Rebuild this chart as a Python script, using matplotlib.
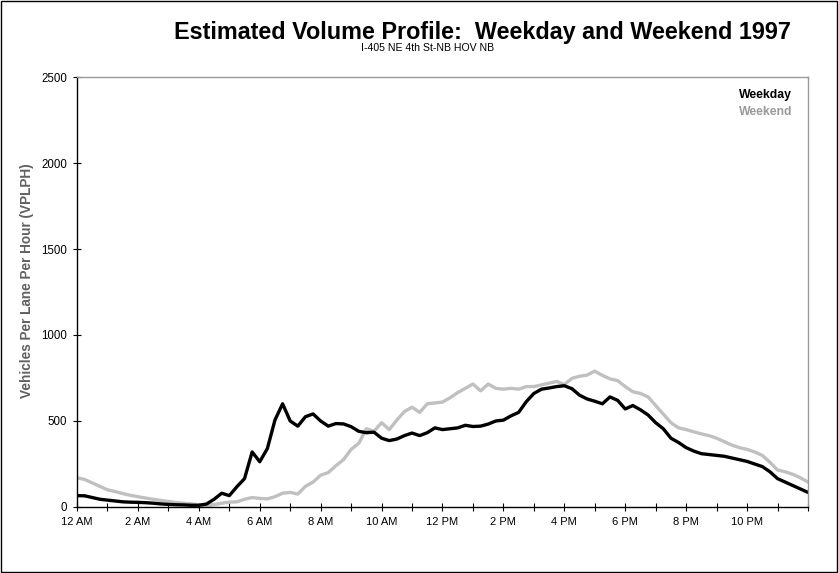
import numpy as np
import matplotlib
matplotlib.use("Agg")
import matplotlib.pyplot as plt
from matplotlib.patches import Rectangle

plt.rcParams['font.family'] = ['Liberation Sans', 'DejaVu Sans']

title = "Estimated Volume Profile:  Weekday and Weekend 1997"
subtitle = "I-405 NE 4th St-NB HOV NB"
ylabel = "Vehicles Per Lane Per Hour (VPLPH)"
series_names = ["Weekday", "Weekend"]

# time in hours, every 15 minutes
hours = np.arange(0, 24.01, 0.25)

weekday = [66, 65, 55, 45, 40, 35, 30, 28, 27, 25, 22, 18, 15, 13, 12, 10,
           10, 17, 45, 80, 66, 118, 165, 320, 263, 340, 506, 600, 500, 470, 525, 541,
           500, 470, 485, 483, 467, 440, 432, 435, 400, 386, 395, 415, 430, 415, 432, 460,
           450, 455, 460, 475, 468, 470, 482, 500, 505, 530, 550, 612, 660, 685, 692, 700,
           705, 688, 650, 628, 615, 600, 640, 620, 570, 590, 565, 535, 490, 455, 400, 375,
           345, 325, 310, 305, 300, 295, 285, 275, 265, 250, 235, 205, 165, 145, 125, 105,
           85]

weekend = [170, 160, 140, 120, 100, 90, 78, 68, 60, 52, 45, 38, 32, 26, 22, 18,
           12, 8, 14, 22, 28, 30, 45, 55, 50, 47, 60, 80, 85, 75, 120, 145,
           185, 200, 240, 275, 335, 370, 455, 440, 490, 450, 505, 555, 580, 550, 600, 605,
           610, 635, 665, 690, 715, 675, 715, 690, 685, 690, 685, 700, 700, 710, 720, 730,
           712, 748, 760, 767, 790, 765, 745, 735, 700, 670, 660, 640, 590, 540, 490, 460,
           450, 437, 425, 415, 400, 380, 360, 345, 335, 320, 300, 260, 215, 205, 190, 170,
           145]

xtick_pos = list(range(0, 24, 2))
xtick_labels = ["12 AM", "2 AM", "4 AM", "6 AM", "8 AM", "10 AM",
                "12 PM", "2 PM", "4 PM", "6 PM", "8 PM", "10 PM"]
ytick_pos = [0, 500, 1000, 1500, 2000, 2500]

fig = plt.figure(figsize=(8.39, 5.73), dpi=100)
ax = fig.add_axes([0.0918, 0.1152, 0.9630 - 0.0918, 0.8656 - 0.1152])

weekend_color = '#C0C0C0'
ax.plot(hours, weekend, color=weekend_color, lw=2.4, solid_joinstyle='round')
ax.plot(hours, weekday, color='black', lw=2.4, solid_joinstyle='round')

ax.set_xlim(0, 24)
ax.set_ylim(0, 2500)
ax.set_xticks(xtick_pos)
ax.set_xticklabels(xtick_labels)
ax.set_xticks(range(0, 25), minor=True)
ax.set_yticks(ytick_pos)
ax.tick_params(axis='x', which='both', direction='inout', length=6, width=0.8,
               labelsize=8, pad=4)
ax.tick_params(axis='y', which='major', direction='inout', length=6, width=0.8,
               labelsize=8.3, pad=4)

for s in ['top', 'right']:
    ax.spines[s].set_color('#999999')
    ax.spines[s].set_linewidth(1)
for s in ['left', 'bottom']:
    ax.spines[s].set_color('black')
    ax.spines[s].set_linewidth(1)

fig.text(0.032, 0.51, ylabel, rotation=90, ha='center', va='center',
         fontsize=9.8, fontweight='bold', color='#606060')

fig.text(0.575, 0.943, title, ha='center', va='center', fontsize=16.8, fontweight='bold')
fig.text(0.510, 0.917, subtitle, ha='center', va='center', fontsize=7.6)

ax.text(0.9785, 0.972, series_names[0], transform=ax.transAxes, ha='right', va='top',
        fontsize=8.8, fontweight='bold', color='black')
ax.text(0.9785, 0.932, series_names[1], transform=ax.transAxes, ha='right', va='top',
        fontsize=8.8, fontweight='bold', color='#999999')

fig.patches.append(Rectangle((0.001, 0.001), 0.997, 0.997, transform=fig.transFigure,
                             fill=False, edgecolor='black', lw=1))

fig.savefig("out.png", dpi=100)
